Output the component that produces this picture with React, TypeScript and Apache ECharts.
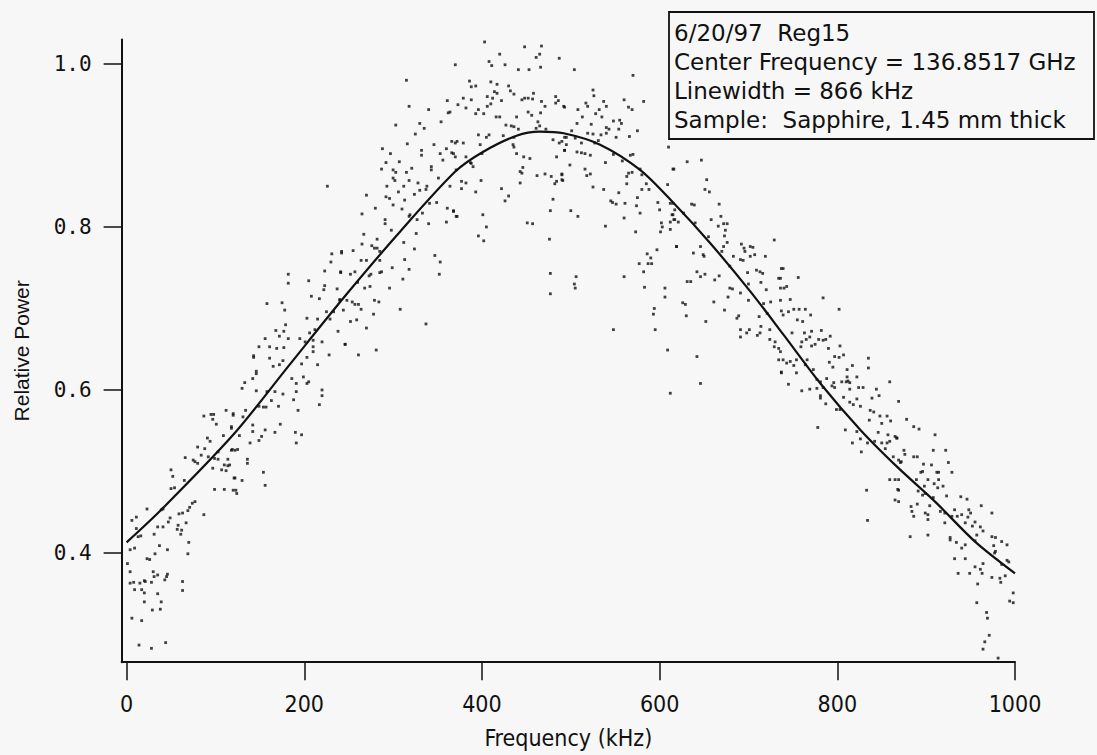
import React, { useEffect, useRef } from 'react';
import * as echarts from 'echarts';

const xTicks = [0, 200, 400, 600, 800, 1000];
const yTicks = [0.4, 0.6, 0.8, 1.0];
const xTitle = 'Frequency (kHz)';
const yTitle = 'Relative Power';
const legendLines = [
  '6/20/97  Reg15',
  'Center Frequency = 136.8517 GHz',
  'Linewidth = 866 kHz',
  'Sample:  Sapphire, 1.45 mm thick',
];

// fitted curve
const fitFreq = [0, 39, 120, 182, 245, 306, 370, 401, 439, 465, 492, 533, 578, 616, 657, 702, 740, 781, 826, 868, 910, 955, 1000];
const fitPower = [0.413, 0.453, 0.545, 0.629, 0.714, 0.792, 0.868, 0.892, 0.912, 0.917, 0.915, 0.901, 0.870, 0.829, 0.780, 0.721, 0.667, 0.608, 0.551, 0.505, 0.463, 0.414, 0.375];

// measured points [kHz, relative power], read region by region
const ptsA = [[87,0.568],[95,0.570],[98,0.570],[112,0.575],[120,0.569],[97,0.564],[101,0.558],[118,0.553],[109,0.544],[91,0.541],[94,0.537],[80,0.530],[88,0.528],[103,0.524],[84,0.520],[92,0.518],[99,0.516],[77,0.512],[80,0.510],[66,0.517],[75,0.514],[103,0.515],[114,0.515],[118,0.526],[122,0.526],[110,0.508],[114,0.507],[97,0.504],[107,0.502],[112,0.501],[50,0.502],[52,0.494],[65,0.489],[50,0.479],[54,0.480],[99,0.478],[110,0.478],[122,0.492],[120,0.477],[23,0.454],[39,0.453],[41,0.454],[49,0.443],[47,0.438],[59,0.448],[63,0.449],[69,0.452],[71,0.456],[74,0.461],[77,0.463],[87,0.447],[11,0.444],[6,0.440],[11,0.430],[13,0.420],[16,0.421],[35,0.432],[41,0.432],[31,0.423],[58,0.434],[57,0.429],[62,0.428],[61,0.423],[67,0.437],[9,0.406],[4,0.404],[37,0.409],[46,0.404],[70,0.413],[69,0.399],[32,0.399],[23,0.393],[26,0.392],[1,0.387],[4,0.377],[8,0.364],[4,0.363],[30,0.377],[31,0.371],[35,0.373],[28,0.364],[15,0.363],[20,0.366],[21,0.365],[46,0.374],[45,0.371],[43,0.367],[63,0.365],[63,0.354],[9,0.355],[17,0.355],[20,0.351],[35,0.350],[39,0.340],[20,0.340],[29,0.330],[38,0.331],[6,0.320],[17,0.317],[14,0.287],[28,0.283],[44,0.290]];

const ptsB = [[231,0.767],[242,0.770],[230,0.757],[223,0.746],[241,0.745],[182,0.742],[182,0.731],[205,0.734],[223,0.728],[222,0.723],[237,0.724],[208,0.715],[217,0.712],[240,0.711],[175,0.707],[158,0.706],[178,0.698],[225,0.696],[233,0.696],[244,0.698],[203,0.688],[215,0.687],[229,0.687],[179,0.680],[168,0.673],[177,0.672],[156,0.663],[172,0.666],[182,0.663],[195,0.663],[206,0.670],[212,0.674],[201,0.659],[210,0.661],[220,0.659],[238,0.672],[246,0.656],[149,0.653],[161,0.653],[169,0.651],[177,0.652],[210,0.653],[210,0.647],[143,0.642],[143,0.640],[161,0.639],[176,0.636],[172,0.631],[165,0.629],[203,0.640],[197,0.632],[215,0.631],[228,0.643],[146,0.623],[146,0.620],[142,0.614],[133,0.609],[130,0.602],[146,0.599],[186,0.614],[191,0.608],[199,0.616],[205,0.610],[203,0.608],[167,0.598],[176,0.595],[158,0.598],[191,0.598],[220,0.600],[220,0.593],[188,0.588],[163,0.587],[217,0.582],[149,0.580],[154,0.579],[157,0.579],[171,0.580],[193,0.575],[120,0.571],[131,0.567],[134,0.575],[173,0.558],[142,0.557],[142,0.549],[156,0.551],[167,0.548],[118,0.555],[127,0.544],[152,0.543],[139,0.535],[149,0.538],[190,0.548],[197,0.545],[191,0.535],[119,0.527],[125,0.527],[136,0.515],[136,0.510],[116,0.508],[154,0.499],[156,0.483],[121,0.492],[130,0.489],[123,0.477],[124,0.473],[226,0.850]];

const ptsC = [[318,0.948],[340,0.944],[361,0.955],[362,0.940],[303,0.925],[330,0.927],[335,0.921],[354,0.929],[325,0.914],[316,0.902],[346,0.901],[360,0.896],[366,0.905],[370,0.903],[288,0.896],[297,0.890],[332,0.894],[332,0.888],[353,0.890],[368,0.890],[292,0.879],[307,0.880],[287,0.871],[300,0.870],[303,0.867],[315,0.867],[321,0.872],[343,0.874],[343,0.870],[356,0.882],[371,0.870],[300,0.860],[302,0.857],[318,0.857],[328,0.854],[338,0.850],[351,0.860],[293,0.850],[312,0.850],[337,0.846],[330,0.845],[306,0.843],[324,0.840],[270,0.839],[292,0.837],[296,0.835],[313,0.833],[341,0.829],[349,0.830],[300,0.827],[280,0.823],[310,0.822],[361,0.823],[368,0.820],[265,0.816],[333,0.817],[318,0.813],[327,0.809],[319,0.815],[291,0.809],[291,0.804],[340,0.804],[360,0.806],[371,0.813],[298,0.796],[267,0.791],[326,0.792],[282,0.785],[312,0.781],[265,0.779],[276,0.777],[279,0.774],[282,0.774],[324,0.773],[242,0.768],[255,0.771],[285,0.770],[347,0.765],[264,0.759],[270,0.759],[285,0.759],[313,0.760],[353,0.757],[299,0.750],[318,0.748],[257,0.745],[252,0.742],[241,0.744],[275,0.742],[273,0.740],[285,0.744],[287,0.745],[311,0.736],[352,0.742],[260,0.732],[274,0.727],[268,0.725],[296,0.725],[240,0.710],[248,0.710],[254,0.708],[257,0.705],[264,0.699],[279,0.710],[284,0.708],[278,0.693],[261,0.705],[252,0.684],[259,0.686],[270,0.676],[308,0.699],[337,0.681],[246,0.656],[261,0.643],[281,0.649],[315,0.980]];

const ptsD = [[403,1.027],[448,1.021],[467,1.022],[420,1.012],[465,1.012],[461,1.008],[487,1.007],[370,0.999],[408,1.003],[411,0.998],[426,0.999],[441,0.993],[453,0.993],[466,0.996],[386,0.979],[388,0.972],[393,0.973],[410,0.978],[417,0.975],[430,0.973],[432,0.967],[436,0.963],[414,0.966],[417,0.964],[406,0.960],[412,0.958],[379,0.958],[388,0.956],[422,0.955],[445,0.956],[448,0.958],[452,0.958],[458,0.964],[457,0.957],[467,0.954],[483,0.960],[486,0.955],[483,0.952],[493,0.947],[373,0.950],[382,0.946],[396,0.944],[406,0.948],[410,0.951],[471,0.948],[393,0.939],[402,0.939],[416,0.935],[420,0.935],[452,0.941],[456,0.937],[466,0.940],[439,0.935],[463,0.929],[465,0.924],[427,0.925],[433,0.924],[436,0.923],[441,0.920],[461,0.921],[472,0.920],[364,0.941],[396,0.913],[405,0.910],[408,0.913],[424,0.912],[436,0.910],[480,0.907],[493,0.910],[372,0.905],[379,0.903],[398,0.901],[400,0.890],[435,0.901],[436,0.898],[487,0.903],[366,0.891],[370,0.886],[382,0.886],[439,0.890],[447,0.886],[454,0.884],[484,0.886],[493,0.894],[387,0.879],[390,0.874],[388,0.878],[446,0.873],[443,0.868],[445,0.866],[443,0.854],[462,0.863],[471,0.865],[478,0.862],[484,0.856],[482,0.853],[490,0.865],[490,0.858],[364,0.850],[377,0.856],[382,0.854],[377,0.847],[399,0.857],[393,0.843],[422,0.847],[430,0.838],[426,0.832],[480,0.834],[368,0.819],[372,0.813],[401,0.815],[405,0.800],[396,0.789],[402,0.783],[451,0.805],[457,0.804],[477,0.820],[476,0.785],[477,0.743],[477,0.718]];

const ptsE = [[504,0.993],[570,0.986],[525,0.968],[526,0.961],[517,0.952],[519,0.948],[537,0.954],[540,0.948],[560,0.956],[565,0.947],[569,0.944],[582,0.954],[492,0.948],[508,0.944],[513,0.935],[528,0.939],[532,0.944],[535,0.935],[548,0.930],[555,0.931],[557,0.927],[507,0.927],[523,0.926],[540,0.922],[543,0.920],[554,0.920],[575,0.918],[501,0.918],[495,0.910],[505,0.909],[519,0.915],[525,0.914],[534,0.913],[540,0.915],[551,0.910],[566,0.911],[490,0.905],[495,0.901],[512,0.903],[527,0.903],[531,0.906],[493,0.894],[507,0.892],[512,0.891],[516,0.890],[522,0.888],[548,0.889],[567,0.888],[570,0.889],[539,0.879],[558,0.881],[499,0.876],[516,0.871],[518,0.863],[522,0.865],[563,0.862],[565,0.866],[569,0.867],[578,0.871],[580,0.864],[615,0.871],[490,0.864],[491,0.857],[563,0.853],[525,0.849],[537,0.846],[554,0.842],[580,0.846],[588,0.846],[585,0.853],[609,0.852],[610,0.898],[575,0.836],[545,0.832],[547,0.830],[551,0.828],[561,0.829],[574,0.826],[578,0.817],[598,0.830],[600,0.821],[615,0.829],[615,0.815],[617,0.809],[612,0.806],[500,0.820],[508,0.813],[539,0.801],[560,0.811],[573,0.794],[602,0.805],[603,0.800],[601,0.794],[612,0.797],[619,0.776],[597,0.772],[586,0.767],[590,0.762],[591,0.755],[587,0.755],[577,0.755],[582,0.745],[560,0.739],[506,0.739],[504,0.730],[505,0.725],[583,0.726],[606,0.725],[606,0.714],[594,0.700],[593,0.693],[548,0.674],[595,0.674],[609,0.649]];

const ptsF = [[631,0.880],[647,0.882],[616,0.871],[653,0.858],[651,0.846],[656,0.843],[636,0.828],[639,0.827],[667,0.828],[612,0.829],[617,0.821],[627,0.817],[614,0.815],[616,0.809],[621,0.806],[640,0.805],[669,0.813],[672,0.804],[658,0.809],[666,0.801],[673,0.789],[674,0.796],[676,0.804],[676,0.781],[655,0.788],[672,0.776],[619,0.776],[646,0.776],[649,0.766],[650,0.764],[638,0.768],[683,0.764],[692,0.779],[695,0.774],[702,0.776],[705,0.775],[696,0.770],[679,0.752],[691,0.760],[694,0.759],[702,0.764],[670,0.770],[707,0.766],[709,0.747],[716,0.743],[719,0.764],[729,0.784],[737,0.749],[642,0.745],[651,0.742],[646,0.739],[635,0.733],[631,0.733],[662,0.735],[667,0.740],[679,0.725],[682,0.724],[699,0.744],[714,0.732],[700,0.730],[713,0.745],[691,0.719],[720,0.723],[734,0.737],[736,0.725],[743,0.727],[626,0.707],[629,0.705],[630,0.691],[661,0.708],[673,0.698],[677,0.714],[700,0.710],[717,0.706],[725,0.708],[689,0.691],[687,0.688],[712,0.690],[721,0.694],[737,0.697],[652,0.684],[691,0.674],[691,0.665],[698,0.670],[701,0.674],[710,0.667],[714,0.678],[713,0.670],[724,0.662],[724,0.674],[730,0.659],[729,0.653],[734,0.651],[734,0.637],[739,0.637],[737,0.622],[612,0.596],[642,0.641],[646,0.608]];

const ptsG = [[739,0.749],[756,0.738],[736,0.737],[740,0.725],[784,0.713],[747,0.711],[736,0.710],[751,0.699],[757,0.699],[764,0.699],[745,0.696],[739,0.692],[770,0.692],[802,0.699],[755,0.686],[761,0.684],[782,0.673],[792,0.666],[749,0.670],[763,0.670],[771,0.672],[769,0.665],[765,0.662],[760,0.659],[775,0.656],[779,0.662],[784,0.661],[787,0.662],[771,0.654],[759,0.653],[790,0.651],[803,0.654],[736,0.647],[766,0.637],[754,0.637],[747,0.635],[743,0.633],[751,0.630],[764,0.631],[797,0.641],[802,0.640],[807,0.643],[791,0.634],[795,0.628],[835,0.639],[835,0.627],[811,0.625],[817,0.630],[754,0.621],[737,0.621],[745,0.607],[773,0.625],[777,0.613],[788,0.614],[781,0.610],[796,0.609],[805,0.610],[811,0.616],[810,0.610],[812,0.611],[814,0.609],[822,0.616],[794,0.605],[797,0.603],[777,0.602],[769,0.601],[760,0.599],[784,0.603],[781,0.593],[781,0.590],[787,0.583],[814,0.601],[824,0.603],[829,0.603],[839,0.590],[847,0.593],[844,0.601],[859,0.610],[807,0.591],[822,0.589],[826,0.580],[814,0.585],[818,0.582],[803,0.576],[799,0.576],[837,0.575],[841,0.573],[836,0.563],[848,0.568],[850,0.559],[856,0.568],[857,0.545],[846,0.548],[860,0.562],[867,0.541],[809,0.551],[822,0.549],[817,0.535],[826,0.540],[827,0.524],[834,0.535],[842,0.537],[850,0.535],[856,0.535],[859,0.537],[854,0.528],[863,0.518],[869,0.514],[869,0.477],[865,0.490],[859,0.490],[869,0.463],[833,0.477],[834,0.440],[778,0.554]];

const ptsH = [[869,0.586],[878,0.564],[886,0.555],[892,0.552],[910,0.545],[865,0.543],[867,0.541],[875,0.526],[876,0.521],[908,0.526],[922,0.526],[886,0.518],[890,0.518],[872,0.512],[871,0.511],[897,0.509],[906,0.508],[925,0.511],[894,0.499],[896,0.500],[912,0.499],[914,0.499],[929,0.499],[902,0.490],[869,0.490],[889,0.490],[909,0.485],[913,0.480],[919,0.482],[898,0.482],[914,0.490],[868,0.478],[891,0.476],[899,0.473],[896,0.471],[908,0.468],[923,0.470],[865,0.465],[939,0.469],[946,0.466],[890,0.460],[883,0.457],[904,0.458],[884,0.451],[886,0.445],[899,0.449],[902,0.447],[916,0.451],[921,0.449],[929,0.445],[935,0.445],[940,0.447],[947,0.444],[944,0.437],[902,0.441],[921,0.437],[932,0.453],[948,0.453],[950,0.449],[962,0.458],[955,0.438],[952,0.433],[961,0.432],[964,0.427],[882,0.420],[902,0.422],[927,0.419],[927,0.416],[934,0.413],[940,0.406],[944,0.410],[957,0.422],[955,0.415],[974,0.420],[978,0.419],[985,0.414],[991,0.410],[976,0.409],[978,0.402],[977,0.400],[932,0.393],[944,0.393],[964,0.387],[955,0.383],[961,0.380],[985,0.386],[991,0.391],[993,0.389],[936,0.375],[949,0.375],[963,0.375],[974,0.370],[983,0.369],[984,0.364],[958,0.362],[974,0.449],[989,0.372],[998,0.351],[994,0.341],[998,0.339],[957,0.339],[968,0.327],[969,0.320],[971,0.299],[966,0.291],[964,0.282],[981,0.271]];

const INK = '#111111';
const BG = '#f7f7f7';
const narrow = "'Liberation Sans Narrow','DejaVu Sans Condensed','Arial Narrow','DejaVu Sans',sans-serif";

export default function App() {
  const ref = useRef<HTMLDivElement>(null);
  useEffect(() => {
    if (!ref.current) return;
    const chart = echarts.init(ref.current, undefined, { renderer: 'svg' });
    const scatter = [...ptsA, ...ptsB, ...ptsC, ...ptsD, ...ptsE, ...ptsF, ...ptsG, ...ptsH];
    const fit = fitFreq.map((f, i) => [f, fitPower[i]]);
    const legendY = [32.5, 61.5, 90.5, 119.5];
    chart.setOption({
      animation: false,
      backgroundColor: BG,
      grid: { left: 121.6, top: 39.5, width: 893.4, height: 622.7 },
      xAxis: {
        type: 'value', min: -5.6, max: 1000,
        axisLine: { onZero: false, lineStyle: { color: INK, width: 2 } },
        axisTick: { show: true, length: 18, customValues: xTicks, lineStyle: { color: INK, width: 1.5 } },
        axisLabel: { customValues: xTicks, margin: 30, fontSize: 23, fontFamily: narrow, color: INK, formatter: (v: number) => String(Math.round(v)) },
        splitLine: { show: false },
        name: xTitle, nameLocation: 'middle', nameGap: 64,
        nameTextStyle: { fontSize: 23, fontFamily: narrow, color: INK },
      },
      yAxis: {
        type: 'value', min: 0.266, max: 1.03,
        axisLine: { show: true, onZero: false, lineStyle: { color: INK, width: 2 } },
        axisTick: { show: true, length: 18, customValues: yTicks, lineStyle: { color: INK, width: 1.5 } },
        axisLabel: { customValues: yTicks, margin: 30, fontSize: 21, fontFamily: "'DejaVu Sans Mono',monospace", color: INK, formatter: (v: number) => v.toFixed(1) },
        splitLine: { show: false },
        name: yTitle, nameLocation: 'middle', nameGap: 90,
        nameTextStyle: { fontSize: 21, fontFamily: "'Liberation Sans',Arial,sans-serif", color: INK },
      },
      series: [
        {
          type: 'scatter', data: scatter, symbol: 'rect', symbolSize: 2.8,
          itemStyle: { color: INK }, silent: true,
        },
        {
          type: 'line', data: fit, showSymbol: false, smooth: 0.3,
          lineStyle: { color: INK, width: 2.2 }, z: 3, silent: true,
        },
      ],
      graphic: [
        {
          type: 'rect', z: 100,
          shape: { x: 669, y: 12, width: 425, height: 127 },
          style: { fill: BG, stroke: INK, lineWidth: 1.8 },
        },
        ...legendLines.map((t, i) => ({
          type: 'text', z: 101, x: 674, y: legendY[i],
          style: { text: t, fill: INK, fontSize: 23, fontFamily: "'DejaVu Sans',sans-serif", verticalAlign: 'middle', align: 'left' },
        })),
      ],
    });
    return () => chart.dispose();
  }, []);
  return <div ref={ref} style={{ position: 'absolute', left: 0, top: 0, width: 1097, height: 755 }} />;
}
